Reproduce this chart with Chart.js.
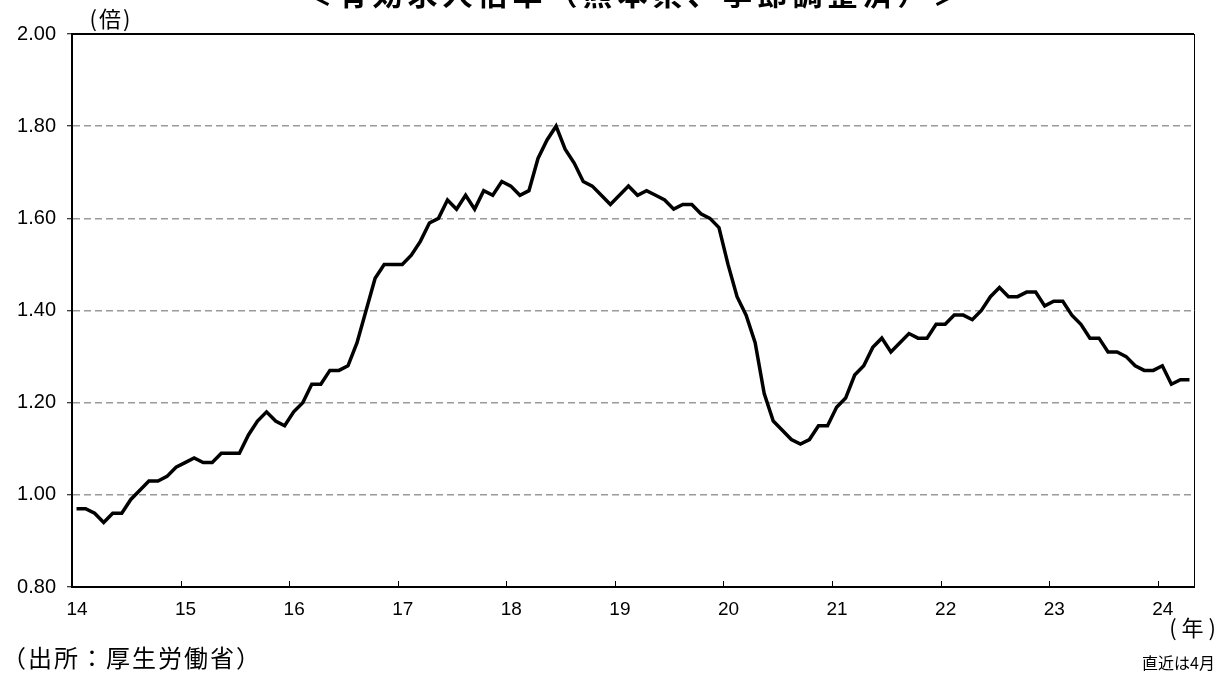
<!DOCTYPE html>
<html lang="ja">
<head>
<meta charset="utf-8">
<title>有効求人倍率</title>
<script src="https://cdn.jsdelivr.net/npm/chart.js@4.4.1/dist/chart.umd.min.js"></script>
<style>
    html, body { margin: 0; padding: 0; background: #fff; }
    #wrap { position: relative; width: 1224px; height: 673px; overflow: hidden; }
</style>
</head>
<body>
<div id="wrap"><canvas id="ratioChart" width="1224" height="673"></canvas></div>
<script>
// monthly ratio, seasonally adjusted (Jan 2014 - Apr 2024)
const r2014 = [0.97, 0.97, 0.96, 0.94, 0.96, 0.96, 0.99, 1.01, 1.03, 1.03, 1.04, 1.06];
const r2015 = [1.07, 1.08, 1.07, 1.07, 1.09, 1.09, 1.09, 1.13, 1.16, 1.18, 1.16, 1.15];
const r2016 = [1.18, 1.20, 1.24, 1.24, 1.27, 1.27, 1.28, 1.33, 1.40, 1.47, 1.50, 1.50];
const r2017 = [1.50, 1.52, 1.55, 1.59, 1.60, 1.64, 1.62, 1.65, 1.62, 1.66, 1.65, 1.68];
const r2018 = [1.67, 1.65, 1.66, 1.73, 1.77, 1.80, 1.75, 1.72, 1.68, 1.67, 1.65, 1.63];
const r2019 = [1.65, 1.67, 1.65, 1.66, 1.65, 1.64, 1.62, 1.63, 1.63, 1.61, 1.60, 1.58];
const r2020 = [1.50, 1.43, 1.39, 1.33, 1.22, 1.16, 1.14, 1.12, 1.11, 1.12, 1.15, 1.15];
const r2021 = [1.19, 1.21, 1.26, 1.28, 1.32, 1.34, 1.31, 1.33, 1.35, 1.34, 1.34, 1.37];
const r2022 = [1.37, 1.39, 1.39, 1.38, 1.40, 1.43, 1.45, 1.43, 1.43, 1.44, 1.44, 1.41];
const r2023 = [1.42, 1.42, 1.39, 1.37, 1.34, 1.34, 1.31, 1.31, 1.30, 1.28, 1.27, 1.27];
const r2024 = [1.28, 1.24, 1.25, 1.25];

const yearLabels = ['14', '15', '16', '17', '18', '19', '20', '21', '22', '23', '24'];
const yTicks = [0.8, 1.0, 1.2, 1.4, 1.6, 1.8, 2.0];

const titleText = '＜有効求人倍率（熊本県、季節調整済）＞';
const unitText = '(倍)';
const yearUnitText = '(年)';
const latestText = '直近は4月';
const sourceText = '（出所：厚生労働省）';

(function () {
    const JP = "'Noto Sans CJK JP', sans-serif";
    const NUM = "'Liberation Sans', Arial, sans-serif";

    const ratios = [].concat(r2014, r2015, r2016, r2017, r2018, r2019, r2020, r2021, r2022, r2023, r2024);
    // each month sits in the middle of its slot, year ticks at slot edges
    const points = ratios.map((v, i) => ({ x: i + 0.5, y: v }));
    const monthCount = yearLabels.length * 12 - 8;

    const frameAndNotes = {
        id: 'frameAndNotes',
        afterDraw(chart) {
            const ctx = chart.ctx;
            const a = chart.chartArea;
            const xs = chart.scales.x;
            ctx.save();
            // top and right frame
            ctx.strokeStyle = '#000';
            ctx.lineWidth = 2;
            ctx.beginPath();
            ctx.moveTo(a.left - 1, a.top);
            ctx.lineTo(a.right, a.top);
            ctx.stroke();
            ctx.lineWidth = 1;
            ctx.beginPath();
            ctx.moveTo(a.right + 0.5, a.top);
            ctx.lineTo(a.right + 0.5, a.bottom);
            ctx.stroke();
            // year ticks point inward
            xs.ticks.forEach(t => {
                const px = Math.round(xs.getPixelForValue(t.value)) + 0.5;
                ctx.beginPath();
                ctx.moveTo(px, a.bottom);
                ctx.lineTo(px, a.bottom - 6);
                ctx.stroke();
            });

            ctx.fillStyle = '#000';
            // title, clipped at the top edge like the source
            ctx.font = 'bold 30px ' + JP;
            ctx.textAlign = 'center';
            ctx.textBaseline = 'alphabetic';
            ctx.letterSpacing = '5px';
            ctx.fillText(titleText, (a.left + a.right) / 2 + 2, 5);
            ctx.letterSpacing = '0px';

            ctx.font = '22px ' + JP;
            ctx.textBaseline = 'middle';
            ctx.letterSpacing = '2px';
            ctx.fillText(unitText, 111, 19);

            ctx.textAlign = 'right';
            ctx.letterSpacing = '5px';
            ctx.fillText(yearUnitText, 1221, 628);
            ctx.letterSpacing = '0px';

            ctx.font = '16px ' + JP;
            ctx.fillText(latestText, 1215, 663);

            ctx.font = '24px ' + JP;
            ctx.textAlign = 'left';
            ctx.letterSpacing = '2px';
            ctx.fillText(sourceText, 2, 658);
            ctx.restore();
        }
    };

    new Chart(document.getElementById('ratioChart'), {
        type: 'line',
        data: {
            datasets: [{
                label: '有効求人倍率',
                data: points,
                borderColor: '#000',
                borderWidth: 3.5,
                pointRadius: 0,
                tension: 0,
                fill: false,
                borderJoinStyle: 'miter'
            }]
        },
        options: {
            responsive: false,
            animation: false,
            layout: { padding: { top: 34, right: 30, left: 0, bottom: 0 } },
            plugins: {
                legend: { display: false },
                title: { display: false },
                tooltip: { enabled: false }
            },
            scales: {
                x: {
                    type: 'linear',
                    min: 0,
                    max: monthCount,
                    afterFit(scale) { scale.height = 86; },
                    afterBuildTicks(scale) {
                        scale.ticks = yearLabels.map((_, i) => ({ value: i * 12 }));
                    },
                    grid: { display: false, drawTicks: false },
                    border: { display: true, color: '#000', width: 2 },
                    ticks: {
                        padding: 11,
                        labelOffset: 5,
                        maxRotation: 0,
                        autoSkip: false,
                        color: '#000',
                        font: { family: NUM, size: 19 },
                        callback: (v) => yearLabels[Math.round(v / 12)]
                    }
                },
                y: {
                    min: 0.8,
                    max: 2.0,
                    afterFit(scale) { scale.width = 72; },
                    afterBuildTicks(scale) {
                        scale.ticks = yTicks.map(v => ({ value: v }));
                    },
                    grid: {
                        color: (c) => (c.tick && (c.tick.value > 1.99 || c.tick.value < 0.81)) ? 'rgba(0,0,0,0)' : '#9a9a9a',
                        lineWidth: 1.5,
                        drawTicks: true,
                        tickLength: 5,
                        tickColor: '#000',
                        tickWidth: 1,
                        tickBorderDash: []
                    },
                    border: { display: true, color: '#000', width: 2, dash: [7, 4] },
                    ticks: {
                        padding: 11,
                        color: '#000',
                        font: { family: NUM, size: 20 },
                        callback: (v) => Number(v).toFixed(2)
                    }
                }
            }
        },
        plugins: [frameAndNotes]
    });
})();
</script>
</body>
</html>
